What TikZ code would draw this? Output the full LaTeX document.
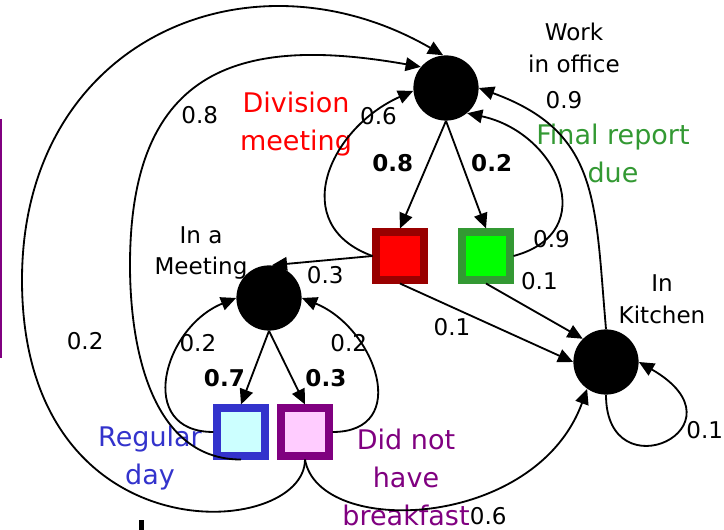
\documentclass[tikz,border=0pt]{standalone}
\usepackage{fontspec}
\setmainfont{DejaVu Sans}
\usepackage{xcolor}
\usepackage{tikz}
\usetikzlibrary{positioning,arrows.meta}

\definecolor{divdark}{RGB}{153,0,0}
\definecolor{divred}{RGB}{255,0,0}
\definecolor{repdark}{RGB}{51,153,51}
\definecolor{replight}{RGB}{0,255,0}
\definecolor{regdark}{RGB}{51,51,204}
\definecolor{reglight}{RGB}{204,255,255}
\definecolor{skipdark}{RGB}{128,0,128}
\definecolor{skiplight}{RGB}{255,204,255}

\begin{document}
\begin{tikzpicture}[
  x=0.025cm, y=0.025cm,
  st/.style    ={circle, fill=black, inner sep=0pt, minimum size=1.63cm},
  sq/.style    ={rectangle, line width=5pt, inner sep=0pt, minimum size=1.2cm},
  sqdiv/.style ={sq, draw=divdark,  fill=divred},
  sqrep/.style ={sq, draw=repdark,  fill=replight},
  sqreg/.style ={sq, draw=regdark,  fill=reglight},
  sqskip/.style={sq, draw=skipdark, fill=skiplight},
  sname/.style ={font=\fontsize{16.4pt}{22.7pt}\selectfont, align=center, inner sep=0pt},
  cname/.style ={font=\fontsize{19.2pt}{27pt}\selectfont, align=center, inner sep=0pt},
  e/.style     ={-{Triangle[length=3.8mm,width=3.4mm]}, line width=1.3pt},
  lbl/.style   ={font=\fontsize{16.4pt}{20pt}\selectfont, inner sep=0.5pt},
  blbl/.style  ={lbl, font=\fontsize{16.4pt}{20pt}\selectfont\bfseries},
]
\useasboundingbox (0,0) rectangle (724,-530);
% ---------------- states (black dots) ----------------
\node[st] (work)  at (446,-88)  {};
\node[st] (mtg)   at (269,-298) {};
\node[st] (kitch) at (606,-362) {};
\node[sname] (workt)  at (574,-48)  {Work\\in office};
\node[sname] (mtgt)   at (201,-253) {In a\\Meeting};
\node[sname] (kitcht) at (662,-299) {In\\Kitchen};
% ---------------- conditions (squares) ----------------
\node[sqdiv]  (divm) at (400,-256) {};
\node[sqrep]  (frep) at (486,-256) {};
\node[sqreg]  (regd) at (241,-432) {};
\node[sqskip] (nobf) at (305,-432) {};
\node[cname, text=divred]   (divt)  at (296,-124) {Division\\meeting};
\node[cname, text=repdark]  (frept) at (613,-153) {Final report\\due};
\node[cname, text=regdark]  (regt)  at (150,-458) {Regular\\day};
\node[cname, text=skipdark] (nobft) at (406,-477) {Did not\\have\\breakfast};
\coordinate (regbend)  at (130,-265);
\coordinate (skipbend) at (22,-280);

% ---------------- from work ----------------
\draw[e] (work.south) -- (divm.north) node[blbl,pos=.39,left=3.3mm]{0.8};
\draw[e] (work.south) -- (frep.north) node[blbl,pos=.39,right=2mm]{0.2};
% ---------------- division meeting ----------------
\draw[e] (divm.west) to[out=160,in=204,looseness=1.38] node[lbl,pos=.85,yshift=-1.2mm]{0.6} (work.185);
\draw[e] (divm.west) -- (mtg.85) node[lbl,pos=.47,below=1mm]{0.3};
\draw[e] (divm.south) -- (kitch.west) node[lbl,pos=.3,below=2.5mm]{0.1};
% ---------------- final report due ----------------
\draw[e] (frep.east) to[out=15,in=-12,looseness=1.57] node[lbl,pos=.1,above right=-0.7mm and -1.2mm]{0.9} (work.-50);
\draw[e] (frep.south) -- (kitch.135) node[lbl,pos=.25,above right=1.5mm and 2.3mm]{0.1};
% ---------------- in a meeting ----------------
\draw[e] (mtg.south) -- (regd.north) node[blbl,pos=.635,left=1.2mm]{0.7};
\draw[e] (mtg.south) -- (nobf.north) node[blbl,pos=.635,right=3mm]{0.3};
\draw[e] (regd.west) to[out=180,in=202,looseness=1.48] node[lbl,pos=.68,right=-1mm]{0.2} (mtg.west);
\draw[e] (nobf.east) to[out=0,in=-22,looseness=1.48] node[lbl,pos=.68,left=-2.5mm]{0.2} (mtg.east);
% ---------------- back to work (long way round) ----------------
\draw[e] (regd.south) to[out=180,in=-90] (regbend)
  to[out=90,in=170,out distance=5cm,in distance=4.5cm] node[lbl,pos=.36,right=2mm,yshift=-1.2mm]{0.8} (work.140);
\draw[e] (nobf.south) to[out=-90,in=-90,out distance=2cm,in distance=7cm] node[lbl,pos=.92,right=9.5mm]{0.2} (skipbend)
  to[out=90,in=150,out distance=6cm,in distance=5.6cm] (work.95);
% ---------------- kitchen ----------------
\draw[e] (nobf.south) to[out=-80,in=-110,out distance=2cm,in distance=3.75cm] node[lbl,pos=.65,below=4mm]{0.6} (kitch.-125);
\draw[e] (kitch.north) to[out=95,in=-20,looseness=1.21] node[lbl,pos=.85,above right=-0.3mm and 4.7mm]{0.9} (work.east);
\draw[e] (kitch.south) to[out=-90,in=-30,out distance=2.5cm,in distance=3.25cm] node[lbl,pos=.6,right=2.2mm]{0.1} (kitch.east);

% ---------------- slide edges ----------------
\draw[skipdark, line width=1.5pt] (1,-119) -- (1,-358);
\fill (139,-520) rectangle (144,-530);
\end{tikzpicture}
\end{document}
